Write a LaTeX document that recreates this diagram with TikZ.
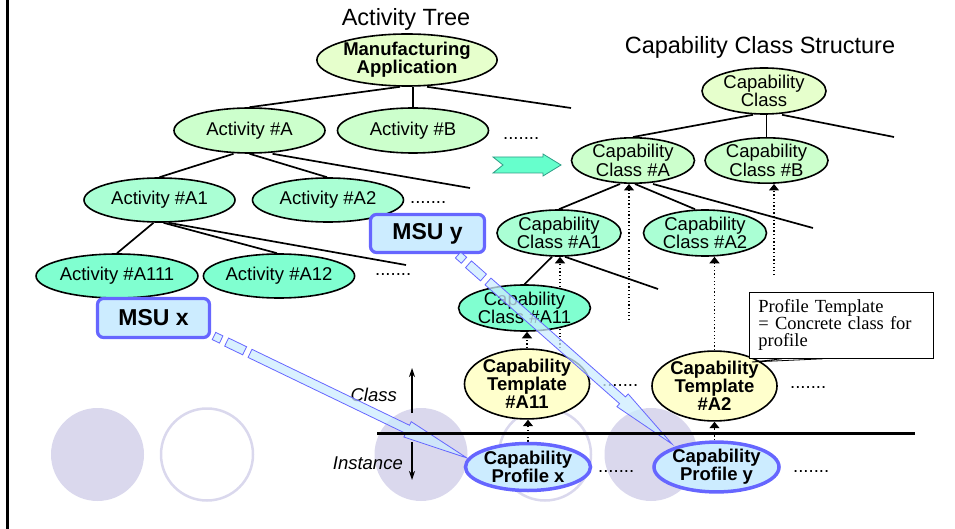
\documentclass[tikz,border=0pt]{standalone}
\usepackage{fontspec}
\setmainfont{Liberation Sans}
\newfontfamily\calloutfont{Liberation Serif}
\usetikzlibrary{shapes.geometric,arrows.meta,calc}

\definecolor{rootfill}{HTML}{E6FFCC}
\definecolor{lvlonefill}{HTML}{CCFFCC}
\definecolor{lvltwofill}{HTML}{AAFFD4}
\definecolor{lvlthreefill}{HTML}{80FFD0}
\definecolor{tmplfill}{HTML}{FFFFCC}
\definecolor{msufill}{HTML}{CCECFF}
\definecolor{msuedge}{HTML}{6666FF}
\definecolor{discfill}{HTML}{DAD8ED}
\definecolor{tealfill}{HTML}{66FFCC}
\definecolor{tealedge}{HTML}{2E9E86}

\pgfdeclarelayer{bg}
\pgfdeclarelayer{wires}
\pgfdeclarelayer{top}
\pgfsetlayers{bg,wires,main,top}

\newcommand\ndfont{\fontsize{18.5}{18.5}\selectfont}
\newcommand\ndbold{\fontsize{18.5}{18}\selectfont\bfseries}

% striped block arrow from a tail coordinate to a tip coordinate
\newcommand\stripedarrow[2]{%
  \path let \p1=(#1), \p2=(#2) in \pgfextra{%
    \pgfmathsetmacro\sarang{atan2((\y2)-(\y1),(\x2)-(\x1))}%
    \pgfmathsetmacro\sarlen{veclen((\x2)-(\x1),(\y2)-(\y1))}%
    \global\let\sarangle\sarang \global\let\sarlength\sarlen};
  \begin{scope}[shift={(#1)}, rotate=\sarangle, x=1pt, y=1pt]
    \path[msuarrow] (0,-4) rectangle (8,4);
    \path[msuarrow] (14,-4.5) rectangle (34,4.5);
    \path[msuarrow] (40,-4.5) -- (\sarlength-66,-4.5) -- (\sarlength-66,-8.5)
      -- (\sarlength,0) -- (\sarlength-66,8.5) -- (\sarlength-66,4.5)
      -- (40,4.5) -- cycle;
  \end{scope}}

\tikzset{
  ell/.style={ellipse, draw=black, line width=1.6pt, inner sep=0pt, align=center, font=\ndfont},
  rootell/.style={ell, fill=rootfill},
  oneell/.style={ell, fill=lvlonefill},
  twoell/.style={ell, fill=lvltwofill},
  threeell/.style={ell, fill=lvlthreefill},
  tmplell/.style={ell, fill=tmplfill, font=\ndbold},
  profell/.style={ellipse, draw=msuedge, line width=3.5pt, fill=msufill, inner sep=0pt, align=center, font=\ndbold},
  msubox/.style={rectangle, rounded corners=6pt, draw=msuedge, line width=3.2pt, fill=msufill, inner sep=0pt,
    font=\fontsize{23}{23}\selectfont\bfseries},
  msuarrow/.style={draw=msuedge, line width=0.8pt, fill=msufill, fill opacity=0.75, line join=miter},
  treeline/.style={line width=1.7pt, black},
  dotlink/.style={line width=1.3pt, dash pattern=on 1.3pt off 2.3pt, -{Triangle[width=10pt,length=6.5pt]}},
  moredots/.style={anchor=base west, inner sep=0pt, font=\ndfont},
  title/.style={inner sep=0pt, font=\fontsize{23.5}{23.5}\selectfont},
  disc/.style={fill=discfill, draw=none},
  ring/.style={draw=discfill, line width=2.5pt, fill=none},
  levelarrow/.style={line width=1.1pt, -{Stealth[length=9pt,width=6pt]}},
  levellabel/.style={anchor=east, inner sep=0pt, font=\fontsize{18.5}{18.5}\selectfont\itshape},
  notebox/.style={draw=black, line width=0.8pt, fill=white, anchor=north west, minimum width=184pt,
    minimum height=66pt, inner xsep=9pt, inner ysep=0pt, text width=166pt, align=left,
    font=\calloutfont\fontsize{18.5}{17}\selectfont},
}

\begin{document}
\begin{tikzpicture}[x=1pt, y=-1pt]
\useasboundingbox (0,0) rectangle (955,529);

% left page rule
\draw[line width=2.5pt] (7.5,0) -- (7.5,529);

% decorative discs
\begin{pgfonlayer}{bg}
  \fill[disc] (97.5,454.5) circle[radius=46.5];
  \draw[ring] (207,454.5) circle[radius=46];
  \fill[disc] (421,454.5) circle[radius=46.5];
  \draw[ring] (545,454.5) circle[radius=46];
  \fill[disc] (651,454.5) circle[radius=46.5];
\end{pgfonlayer}

% titles
\node[title] (ttree) at (406,19) {Activity Tree};
\node[title] (tclass) at (760,47) {Capability Class Structure};

% activity tree
\node[rootell, minimum width=164pt, minimum height=52pt, font=\ndbold] (mfg) at (407,60) {Manufacturing\\Application};
\node[oneell, minimum width=151pt, minimum height=45pt] (actA) at (249.5,130.5) {Activity \#A};
\node[oneell, minimum width=151pt, minimum height=45pt] (actB) at (413,130.5) {Activity \#B};
\node[twoell, minimum width=151pt, minimum height=44pt] (actA1) at (159.5,200) {Activity \#A1};
\node[twoell, minimum width=151pt, minimum height=44pt] (actA2) at (328,200) {Activity \#A2};
\node[threeell, minimum width=151pt, minimum height=44pt] (actA111) at (117,276) {Activity \#A111};
\node[threeell, minimum width=151pt, minimum height=44pt] (actA12) at (279,276) {Activity \#A12};

% capability class structure
\node[rootell, minimum width=124pt, minimum height=46pt] (cc) at (764,91) {Capability\\Class};
\node[oneell, minimum width=123pt, minimum height=45pt] (cA) at (633,160.5) {Capability\\Class \#A};
\node[oneell, minimum width=123pt, minimum height=45pt] (cB) at (766.5,160.5) {Capability\\Class \#B};
\node[twoell, minimum width=124pt, minimum height=46pt] (cA1) at (559,233) {Capability\\Class \#A1};
\node[twoell, minimum width=123pt, minimum height=46pt] (cA2) at (705,233) {Capability\\Class \#A2};
\node[threeell, minimum width=123pt, minimum height=46pt] (cA11) at (524.5,308) {Capability\\Class \#A11};

% templates and profiles
\node[tmplell, minimum width=122pt, minimum height=61pt] (tA11) at (527,384) {Capability\\Template\\\#A11};
\node[tmplell, minimum width=121pt, minimum height=60pt] (tA2) at (714.5,386) {Capability\\Template\\\#A2};
\node[profell, minimum width=123pt, minimum height=47pt] (px) at (528,467) {Capability\\Profile x};
\node[profell, minimum width=124pt, minimum height=47pt] (py) at (716.5,467) {Capability\\Profile y};

% manufacturing software units
\node[msubox, minimum width=112pt, minimum height=39pt] (msux) at (153.5,318) {MSU x};
\node[msubox, minimum width=114pt, minimum height=38pt] (msuy) at (427.5,233.5) {MSU y};

% open ends of the trees
\coordinate (mfg-more) at (571,108);
\coordinate (actA-more) at (470,188);
\coordinate (actA1-more) at (406,265);
\coordinate (cc-more) at (894,137);
\coordinate (cA-more) at (813,228);
\coordinate (cA1-more) at (658,289);
\coordinate (cA-down) at (629,320);
\coordinate (cB-down) at (774,275);

\begin{pgfonlayer}{wires}
  \draw[treeline] ([xshift=-7pt]mfg.south) -- (actA.north);
  \draw[treeline] (actB.north) -- (actB.north |- mfg.south);
  \draw[treeline] ([xshift=20pt]mfg.south) -- (mfg-more);
  \draw[treeline] ([xshift=-16pt]actA.south) -- (actA1.north);
  \draw[treeline] (actA.south) -- ([xshift=-1pt]actA2.north);
  \draw[treeline] ([xshift=23pt]actA.south) -- (actA-more);
  \draw[treeline] ([xshift=-6pt]actA1.south) -- (actA111.north);
  \draw[treeline] ([xshift=4pt]actA1.south) -- ([xshift=-2pt]actA12.north);
  \draw[treeline] ([xshift=9pt]actA1.south) -- (actA1-more);

  \draw[treeline] ([xshift=-11pt]cc.south) -- (cA.north);
  \draw[treeline] (cB.north) -- (cB.north |- cc.south);
  \draw[treeline] ([xshift=18pt]cc.south) -- (cc-more);
  \draw[treeline] ([xshift=-13pt]cA.south) -- (cA1.north);
  \draw[treeline] ([xshift=2pt]cA.south) -- ([xshift=-10pt]cA2.north);
  \draw[treeline] ([xshift=20pt]cA.south) -- (cA-more);
  \draw[treeline] ([xshift=-7pt]cA1.south) -- (cA11.north);
  \draw[treeline] ([xshift=6pt]cA1.south) -- (cA1-more);

  % instance-of / derived-from links
  \draw[dotlink] (tA11.north) -- (tA11.north |- cA11.south);
  \draw[dotlink] (px.north) -- (px.north |- tA11.south);
  \draw[dotlink] (tA2.south |- py.north) -- (tA2.south);
  \draw[dotlink] (tA2.north) -- (tA2.north |- cA2.south);
  \draw[dotlink] ([xshift=1pt]cA1.south |- tA11.north) -- ([xshift=1pt]cA1.south);
  \draw[dotlink] (cA-down) -- (cA-down |- cA.south);
  \draw[dotlink] (cB-down) -- (cB-down |- cB.south);
\end{pgfonlayer}

% continuation marks
\node[moredots] (dots-actB) at (503,139.5) {.......};
\node[moredots] (dots-actA2) at (410,203.5) {.......};
\node[moredots] (dots-actA12) at (375,275.5) {.......};
\node[moredots] (dots-tA11) at (602,386.5) {.......};
\node[moredots] (dots-tA2) at (790,388.5) {.......};
\node[moredots] (dots-px) at (598,472.5) {.......};
\node[moredots] (dots-py) at (793,472.5) {.......};

% mapping arrow between the two structures
\filldraw[fill=tealfill, draw=tealedge, line width=0.8pt]
  (493,157) -- (543,157) -- (543,154) -- (561,165) -- (543,176) -- (543,173) -- (493,173) -- (503,165) -- cycle;

% class / instance levels
\coordinate (cls-from) at (412,413);
\coordinate (cls-to) at (412,368);
\coordinate (ins-from) at (412,442);
\coordinate (ins-to) at (412,480);
\draw[levelarrow] (cls-from) -- (cls-to);
\draw[levelarrow] (ins-from) -- (ins-to);
\node[levellabel] (lcls) at (397,395) {Class};
\node[levellabel] (lins) at (403,463) {Instance};

\begin{pgfonlayer}{top}
  % MSU to profile assignments
  \coordinate (msux-tail) at (214,336);
  \coordinate (msux-tip) at (467,458);
  \coordinate (msuy-tail) at (458,255);
  \coordinate (msuy-tip) at (672,444);
  \stripedarrow{msux-tail}{msux-tip}
  \stripedarrow{msuy-tail}{msuy-tip}

  % class / instance divider
  \coordinate (div-l) at (377,433);
  \coordinate (div-r) at (915,433);
  \draw[line width=3pt] (div-l) -- (div-r);

  % note on profile templates
  \node[notebox] (note) at (749,292) {Profile Template\\= Concrete class for\\profile};
  \coordinate (note-tip) at (752,362);
  \draw[line width=0.8pt] ([xshift=33pt]note.south west) -- (note-tip) -- ([xshift=74pt]note.south west);
\end{pgfonlayer}
\end{tikzpicture}
\end{document}
